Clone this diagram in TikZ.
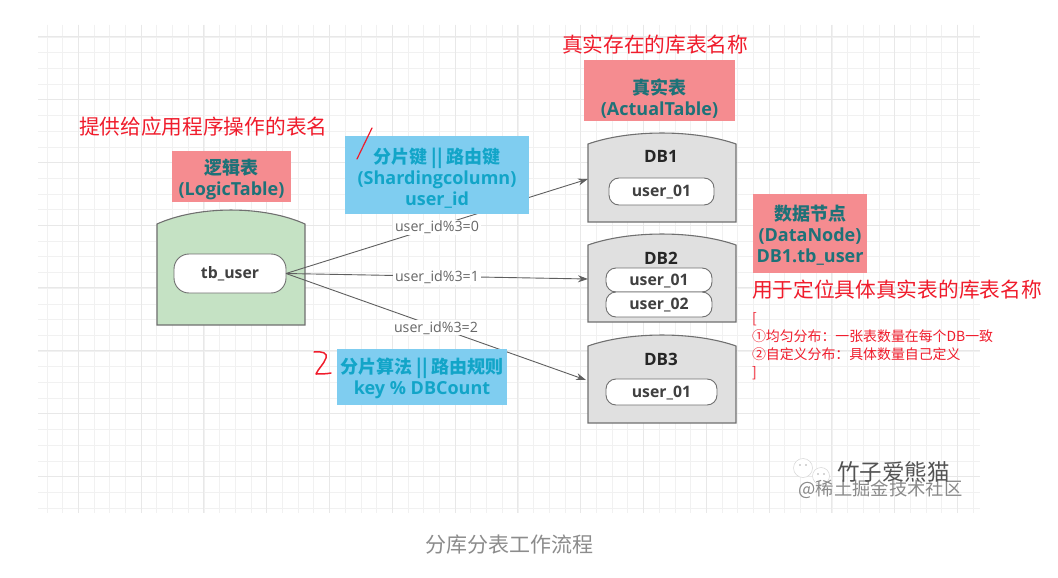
\documentclass[tikz,border=0pt]{standalone}
\usepackage{fontspec}
\usetikzlibrary{arrows.meta}
\setmainfont{Open Sans}
\newfontfamily\cjk{Noto Sans CJK SC}
\definecolor{gridminor}{HTML}{F1F1F1}
\definecolor{gridmajor}{HTML}{E8E8E8}
\definecolor{pinkbox}{HTML}{F58C90}
\definecolor{tealtxt}{HTML}{1E7278}
\definecolor{bluebox}{HTML}{7FCDF0}
\definecolor{bluetxt}{HTML}{12A5C8}
\definecolor{redtxt}{HTML}{F01C2C}
\definecolor{greenfill}{HTML}{C5E2C4}
\definecolor{dbfill}{HTML}{E0E0E0}
\definecolor{edgeline}{HTML}{707070}
\definecolor{linklabel}{HTML}{666666}
\definecolor{captiontxt}{HTML}{8C8C8C}
\definecolor{marktxt}{HTML}{8A8A8A}
\tikzset{
  x=1pt,y=-1pt,
  inner sep=0pt,outer sep=0pt,
  shelf/.style={draw=edgeline,line width=1.1pt,line join=miter},
  pill/.style={draw=edgeline,fill=white,line width=0.9pt,rounded corners=10pt,anchor=center,
    text height=12pt,text depth=2pt,
    font=\fontsize{15.8}{18}\selectfont\bfseries,text=black!75},
  dbtitle/.style={font=\fontsize{17}{19}\selectfont\bfseries,text=black!85},
  notebox/.style={align=center,font=\fontsize{18}{21}\selectfont\bfseries},
  pinkn/.style={notebox,fill=pinkbox,text=tealtxt},
  bluen/.style={notebox,fill=bluebox,text=bluetxt},
  redhead/.style={font=\cjk\fontsize{20.7}{24}\selectfont,text=redtxt,anchor=west},
  linktext/.style={fill=white,inner xsep=2pt,inner ysep=1pt,yshift=-1pt,text=linklabel,font=\fontsize{14.2}{16}\selectfont},
  linkarrow/.style={draw=edgeline!85!black,line width=0.9pt,-{Stealth[length=10pt,width=7pt]}},
}
\newcommand{\topgap}[1]{\rule{0pt}{#1pt}}
\newcommand{\shelfshape}[6]{%
  \path[shelf,fill=#6] (#1,#4) -- (#1,#3) .. controls ({#1+0.28*(#2-#1)},{#3-(#3-#5)*1.33}) and ({#2-0.28*(#2-#1)},{#3-(#3-#5)*1.33}) .. (#2,#3) -- (#2,#4) -- cycle;}
\begin{document}
\begin{tikzpicture}
\useasboundingbox (0,0) rectangle (1058,578);
\fill[white] (0,0) rectangle (1058,578);
% grid
\foreach \k in {0,...,59}{\draw[gridminor,line width=0.8pt] ({46.9+15.7*\k},25) -- ({46.9+15.7*\k},513);}
\foreach \k in {0,...,30}{\draw[gridminor,line width=0.8pt] (38,{37+15.7*\k}) -- (980,{37+15.7*\k});}
\foreach \k in {0,...,14}{\draw[gridmajor,line width=1pt] ({78.3+62.8*\k},25) -- ({78.3+62.8*\k},513);}
\foreach \k in {0,...,7}{\draw[gridmajor,line width=1pt] (38,{36.7+62.8*\k}) -- (980,{36.7+62.8*\k});}
% shelves
\shelfshape{157}{305}{224}{325}{210}{greenfill}
\shelfshape{588}{736}{144}{222}{133}{dbfill}
\shelfshape{588}{736}{245}{322}{234}{dbfill}
\shelfshape{588}{736}{346}{423}{335}{dbfill}
% anchor nodes of the shelves' left sides
\coordinate (db1in) at (588,179);
\coordinate (db2in) at (588,279);
\coordinate (db3in) at (586,380);
% pills
\node[pill,minimum width=112pt,minimum height=39pt,rounded corners=15pt] (tb) at (230,273.5) {tb\_user};
\node[pill,minimum width=105pt,minimum height=27pt] (u1) at (661.5,191.5) {user\_01};
\node[pill,minimum width=106pt,minimum height=24pt] (u21) at (659,280) {user\_01};
\node[pill,minimum width=106pt,minimum height=25pt] (u22) at (659,304.5) {user\_02};
\node[pill,minimum width=111pt,minimum height=26pt] (u3) at (661.5,392) {user\_01};
\node[dbtitle] (t1) at (661,156) {DB1};
\node[dbtitle] (t2) at (661,258) {DB2};
\node[dbtitle] (t3) at (661,359) {DB3};
% connectors
\draw[linkarrow] (tb.east) -- node[linktext] (l0) {user\_id\%3=0} (db1in);
\draw[linkarrow] (tb.east) -- node[linktext] (l1) {user\_id\%3=1} (db2in);
\draw[linkarrow] (tb.east) -- node[linktext] (l2) {user\_id\%3=2} (db3in);
% boxes
\node[pinkn,minimum width=119pt,minimum height=51pt] (logic) at (231.5,176.5) {\topgap{22}{\cjk 逻辑表}\\(LogicTable)};
\node[pinkn,minimum width=151pt,minimum height=61pt] (actual) at (659.5,90.5) {\topgap{32}{\cjk 真实表}\\(ActualTable)};
\node[pinkn,minimum width=114pt,minimum height=79pt] (datan) at (810,233.5) {\topgap{19}{\cjk 数据节点}\\(DataNode)\\DB1.tb\_user};
\node[bluen,minimum width=184pt,minimum height=78pt] (shard) at (437,175) {\topgap{22}{\cjk 分片键 || 路由键}\\(Shardingcolumn)\\user\_id};
\node[bluen,minimum width=170pt,minimum height=56pt] (algo) at (422,377) {\topgap{19}{\cjk 分片算法 || 路由规则}\\key \% DBCount};
% red texts
\node[redhead] (h1) at (79,127) {提供给应用程序操作的表名};
\node[redhead] (h2) at (562,45) {真实存在的库表名称};
\node[redhead] (h3) at (752,290) {用于定位具体真实表的库表名称};
\node[anchor=north west,align=left,text=redtxt,font=\cjk\fontsize{13.9}{18.2}\selectfont] (lst) at (752,312)
  {[\\①均匀分布：一张表数量在每个DB一致\\②自定义分布：具体数量自己定义\\]};
% handwritten marks
\draw[redtxt,line width=1.2pt,line cap=round] (372,128) -- (357,159);
\draw[redtxt,line width=1.5pt,line cap=round,line join=round] (314,352) .. controls (322,351) and (328,353) .. (326,358) .. controls (324,364) and (318,369) .. (316,374) .. controls (321,374) and (326,374) .. (331,373);
% watermark
\fill[white,draw=marktxt!35,line width=.5pt] (803,468) circle (9.5pt);
\fill[white,draw=marktxt!35,line width=.5pt] (821,476) circle (8.5pt);
\fill[marktxt!70] (800,465) circle (.8pt) (806,465) circle (.8pt) (818,474) circle (.8pt) (824,474) circle (.8pt);
\node[text=marktxt,font=\cjk\fontsize{18.3}{20}\selectfont] (mk2) at (880.5,489) {@稀土掘金技术社区};
\node[text=marktxt!60!black,font=\cjk\fontsize{22.5}{24}\selectfont] (mk1) at (893.5,472) {竹子爱熊猫};
% caption
\node[text=captiontxt,font=\cjk\fontsize{21}{24}\selectfont] (cap) at (509,545) {分库分表工作流程};
\end{tikzpicture}
\end{document}
